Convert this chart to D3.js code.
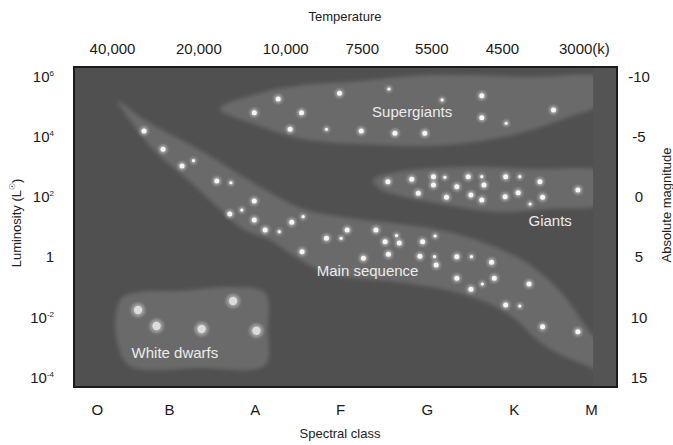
<!DOCTYPE html>
<html><head><meta charset="utf-8">
<script src="https://cdn.jsdelivr.net/npm/d3@7"></script>
<style>
body{margin:0;background:#fff;}
svg text{font-family:"Liberation Sans", Arial, Helvetica, sans-serif;}
</style></head><body>
<svg id="chart" width="673" height="445"></svg>
<script>
// ---- data (x: spectral position 0..100 hot->cool, y: absolute magnitude) ----
const tempLabels = ["40,000","20,000","10,000","7500","5500","4500","3000(k)"];
const tempPos = [7.0, 22.9, 38.9, 53.0, 65.8, 78.8, 93.9];
const spectralLabels = ["O","B","A","F","G","K","M"];
const spectralPos = [4.2, 17.5, 33.3, 49.0, 65.0, 81.0, 95.2];
const lumTicks = [1e6, 1e4, 1e2, 1, 1e-2, 1e-4];
const magTicks = [-10, -5, 0, 5, 10, 15];

// stars: [spectral position, absolute magnitude, bright(1)/faint(0)]
const supergiants = [[33.2,-7.0,1],[37.6,-8.14,1],[39.8,-5.62,1],[41.9,-7.0,1],[46.5,-5.62,0],[48.9,-8.61,1],[52.9,-5.48,1],[58.0,-8.97,0],[59.1,-5.29,1],[64.6,-5.29,1],[67.8,-8.06,0],[75.1,-8.41,1],[75.1,-6.59,1],[79.6,-6.12,0],[88.3,-7.23,1]];
const giants = [[57.8,-1.27,1],[62.2,-1.47,1],[66.2,-1.68,1],[66.2,-0.99,1],[68.3,-1.63,0],[72.6,-1.68,1],[75.1,-1.68,0],[75.5,-0.99,1],[70.5,-0.85,1],[79.5,-1.68,1],[82.1,-1.68,0],[85.8,-1.27,1],[92.8,-0.58,1],[63.4,-0.30,1],[68.6,0.03,1],[73.1,-0.16,1],[75.1,0.26,1],[79.4,-0.02,1],[81.8,-0.35,1],[86.3,0.03,1],[84.0,0.59,0]];
const mainSequence = [[12.9,-5.48,1],[16.4,-3.96,1],[19.9,-2.57,1],[22.0,-3.01,0],[26.3,-1.32,1],[28.9,-1.18,0],[33.2,0.34,1],[30.9,1.09,0],[28.7,1.42,1],[33.2,1.92,1],[35.2,2.75,1],[37.8,2.89,0],[40.1,2.11,1],[42.2,1.64,0],[46.5,3.44,1],[49.2,3.44,0],[50.3,2.75,1],[55.6,2.75,1],[42.0,4.55,1],[53.3,5.10,1],[57.3,3.72,1],[59.9,3.83,1],[64.2,3.72,1],[66.5,3.25,0],[59.4,3.21,0],[57.9,4.76,1],[63.7,4.94,1],[66.4,4.97,0],[66.7,5.66,1],[70.5,4.97,1],[73.2,4.97,0],[76.9,5.43,1],[70.5,6.76,1],[73.1,7.68,1],[75.2,7.24,0],[77.4,6.76,1],[83.8,7.24,1],[79.5,8.98,1],[82.1,9.07,0],[86.3,10.79,1],[92.8,11.2,1]];
const whiteDwarfs = [[11.8,9.40],[15.2,10.73],[23.5,10.98],[29.3,8.65],[33.6,11.12]];

// region outlines [spectral position, absolute magnitude]
const supergiantZone = [[26.9,-7.31],[33.7,-8.56],[42.2,-9.30],[50.8,-9.55],[65.6,-10.13],[84.0,-9.97],[98,-9.8],[98,-8.06],[90.1,-6.48],[80.8,-5.15],[68.7,-4.32],[56.4,-4.32],[42.2,-4.81],[33.7,-5.98]];
const giantZone = [[55.1,-1.41],[59.5,-2.07],[71.6,-2.49],[84.0,-2.32],[98,-1.91],[98,0.42],[87.1,1.00],[77.9,1.25],[68.7,0.67],[59.5,-0.16],[56.4,-0.66]];
const mainZone = [[7.9,-8.06],[12.7,-6.48],[23.8,-3.73],[33.7,-0.99],[42.2,1.00],[50.8,1.75],[60.0,2.25],[67.4,2.75],[76.6,4.00],[84.0,5.66],[90.1,8.15],[95.0,11.23],[98,12.72],[98,14.55],[93.7,13.89],[89.0,12.97],[85.3,11.89],[80.8,9.98],[74.8,8.57],[68.7,7.74],[59.5,7.08],[47.1,6.41],[41.1,5.08],[36.1,3.58],[31.1,2.67],[26.9,1.00],[20.8,-1.49],[14.5,-3.98],[8.5,-7.56]];
const dwarfZone = [[8.8,8.40],[12.2,7.90],[19.5,7.82],[28.7,7.49],[35.2,7.99],[35.7,11.06],[35.2,13.97],[23.2,14.22],[10.3,14.05],[8.1,12.31],[7.7,9.81]];

const regionLabels = [["Supergiants",54.9,-6.64],["Giants",83.7,2.42],["Main sequence",44.7,6.57],["White dwarfs",10.6,13.39]];

// ---- scales ----
const L=74, R=617, T=67, B=387;
const x = d3.scaleLinear().domain([0,100]).range([L,R]);
const yMag = d3.scaleLinear().domain([-10.8,15.8]).range([T,B]);
const yLum = d3.scaleLog().domain([10**((5+10.8)/2.5), 10**((5-15.8)/2.5)]).range([T,B]);

const svg = d3.select("#chart");
const defs = svg.append("defs");
defs.append("clipPath").attr("id","plotclip").append("rect").attr("x",L).attr("y",T).attr("width",R-L).attr("height",B-T);
defs.append("filter").attr("id","soft").attr("x","-10%").attr("y","-10%").attr("width","120%").attr("height","120%")
  .append("feGaussianBlur").attr("stdDeviation",2.2);
defs.append("filter").attr("id","glow").attr("x","-100%").attr("y","-100%").attr("width","300%").attr("height","300%")
  .append("feGaussianBlur").attr("stdDeviation",1.6);

svg.append("rect").attr("x",L).attr("y",T).attr("width",R-L).attr("height",B-T).attr("fill","#505050");

const plot = svg.append("g").attr("clip-path","url(#plotclip)");
const line = d3.line().x(d=>x(d[0])).y(d=>yMag(d[1])).curve(d3.curveCatmullRomClosed.alpha(0.5));
[supergiantZone, giantZone, mainZone, dwarfZone].forEach(z=>{
  plot.append("path").attr("d",line(z)).attr("fill","#6b6b6b").attr("filter","url(#soft)");
});
// right edge strip
plot.append("rect").attr("x",x(95.6)).attr("y",T).attr("width",R-x(95.6)).attr("height",B-T).attr("fill","#545454");

// stars
const stars = supergiants.concat(giants, mainSequence);
plot.append("g").selectAll("circle").data(stars).join("circle")
  .attr("cx",d=>x(d[0])).attr("cy",d=>yMag(d[1])).attr("r",d=>d[2]?4.2:3)
  .attr("fill","#fff").attr("opacity",0.45).attr("filter","url(#glow)");
plot.append("g").selectAll("circle").data(stars).join("circle")
  .attr("cx",d=>x(d[0])).attr("cy",d=>yMag(d[1])).attr("r",d=>d[2]?2.5:1.6)
  .attr("fill","#f6f6f6");
plot.append("g").selectAll("circle").data(whiteDwarfs).join("circle")
  .attr("cx",d=>x(d[0])).attr("cy",d=>yMag(d[1])).attr("r",7)
  .attr("fill","#fff").attr("opacity",0.35).attr("filter","url(#glow)");
plot.append("g").selectAll("circle").data(whiteDwarfs).join("circle")
  .attr("cx",d=>x(d[0])).attr("cy",d=>yMag(d[1])).attr("r",4.2)
  .attr("fill","#dcdcdc");

plot.append("g").selectAll("text").data(regionLabels).join("text")
  .attr("x",d=>x(d[1])).attr("y",d=>yMag(d[2])).text(d=>d[0])
  .attr("fill","#ececec").attr("font-size",15);

svg.append("rect").attr("x",L).attr("y",T).attr("width",R-L).attr("height",B-T)
  .attr("fill","none").attr("stroke","#1c1c1c").attr("stroke-width",2);

// axes
function styleAxis(g){ g.select(".domain").remove(); g.selectAll("text").attr("fill","#1a1a1a").attr("font-size",15).attr("font-family","Liberation Sans, Arial, sans-serif"); }
svg.append("g").attr("transform",`translate(0,${T})`)
  .call(d3.axisTop(x).tickValues(tempPos).tickFormat((d,i)=>tempLabels[i]).tickSize(0).tickPadding(13)).call(styleAxis);
svg.append("g").attr("transform",`translate(0,${B})`)
  .call(d3.axisBottom(x).tickValues(spectralPos).tickFormat((d,i)=>spectralLabels[i]).tickSize(0).tickPadding(17)).call(styleAxis);
const gl = svg.append("g").attr("transform",`translate(${L},0)`)
  .call(d3.axisLeft(yLum).tickValues(lumTicks).tickSize(0).tickPadding(20).tickFormat(()=>"" )).call(styleAxis);
gl.selectAll(".tick text").each(function(d){
  const e = Math.round(Math.log10(d));
  const t = d3.select(this);
  if(e===0){ t.text("1"); }
  else { t.append("tspan").text("10"); t.append("tspan").text(String(e)).attr("font-size",8).attr("dy","-0.75em"); }
});
svg.append("g").attr("transform",`translate(${R},0)`)
  .call(d3.axisRight(yMag).tickValues(magTicks).tickSize(0).tickPadding(22).tickFormat(d=>String(d))).call(styleAxis)
  .selectAll("text").attr("text-anchor","middle");

// titles
svg.append("text").attr("x",345).attr("y",21).attr("text-anchor","middle").attr("font-size",13).attr("fill","#222").text("Temperature");
svg.append("text").attr("x",340).attr("y",438).attr("text-anchor","middle").attr("font-size",13).attr("fill","#222").text("Spectral class");
const lt = svg.append("text").attr("transform","translate(21,223) rotate(-90)").attr("text-anchor","middle").attr("font-size",13).attr("fill","#222");
lt.append("tspan").text("Luminosity (L");
lt.append("tspan").text("\u2609").attr("font-size",8).attr("dy","-0.8em");
lt.append("tspan").text(")").attr("dy","0.5em");
svg.append("text").attr("transform","translate(671,205) rotate(-90)").attr("text-anchor","middle").attr("font-size",13).attr("fill","#222").text("Absolute magnitude");
</script></body></html>
